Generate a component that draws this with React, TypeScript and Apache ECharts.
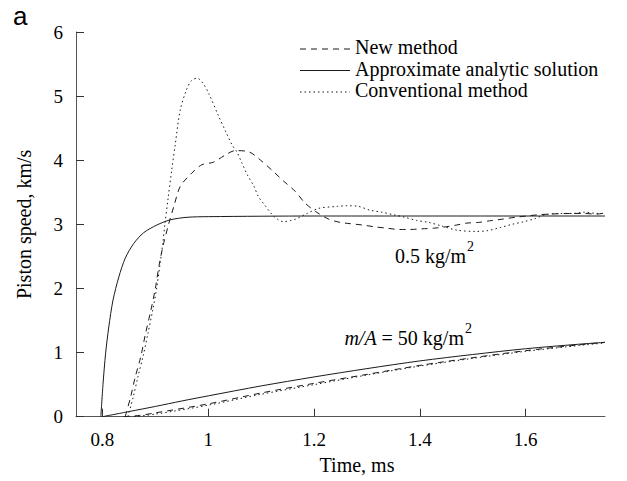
import React, { useEffect, useRef } from "react";
import * as echarts from "echarts";

type P = [number, number];

const xTicks = [0.8, 1, 1.2, 1.4, 1.6];
const yTicks = [0, 1, 2, 3, 4, 5, 6];

// m/A = 0.5 kg/m^2
const analytic05: P[] = [
  [0.797, 0], [0.801, 0.5], [0.806, 0.99], [0.812, 1.4], [0.82, 1.82], [0.831, 2.18],
  [0.843, 2.47], [0.859, 2.7], [0.878, 2.87], [0.903, 2.99], [0.928, 3.07], [0.96, 3.11],
  [1.0, 3.12], [1.2, 3.13], [1.75, 3.13],
];
const newMethod05: P[] = [
  [0.843, 0], [0.853, 0.3], [0.862, 0.62], [0.872, 0.92], [0.881, 1.28], [0.891, 1.64],
  [0.9, 2.0], [0.907, 2.36], [0.915, 2.68], [0.925, 3.0], [0.935, 3.28], [0.947, 3.59],
  [0.969, 3.8], [0.988, 3.93], [1.01, 3.97], [1.032, 4.08], [1.051, 4.15], [1.077, 4.13],
  [1.099, 4.0], [1.121, 3.84], [1.143, 3.67], [1.165, 3.51], [1.182, 3.34], [1.203, 3.2],
  [1.228, 3.08], [1.25, 3.03], [1.269, 3.01], [1.291, 2.99], [1.316, 2.96], [1.338, 2.94],
  [1.36, 2.92], [1.38, 2.92], [1.404, 2.93], [1.426, 2.94], [1.448, 2.96], [1.47, 2.99],
  [1.489, 3.02], [1.511, 3.03], [1.536, 3.06], [1.555, 3.08], [1.58, 3.11], [1.602, 3.13],
  [1.624, 3.15], [1.646, 3.16], [1.687, 3.17], [1.71, 3.17], [1.735, 3.16], [1.75, 3.18],
];
const conventional05: P[] = [
  [0.848, 0], [0.858, 0.3], [0.867, 0.62], [0.877, 0.95], [0.886, 1.3], [0.895, 1.66],
  [0.903, 2.03], [0.909, 2.39], [0.914, 2.7], [0.918, 3.0], [0.924, 3.4], [0.931, 3.85],
  [0.938, 4.27], [0.947, 4.78], [0.958, 5.08], [0.968, 5.24], [0.979, 5.28], [0.99, 5.2],
  [1.001, 5.04], [1.02, 4.68], [1.034, 4.43], [1.045, 4.24], [1.054, 4.13], [1.064, 3.95],
  [1.074, 3.77], [1.086, 3.6], [1.095, 3.43], [1.105, 3.32], [1.121, 3.15], [1.131, 3.08],
  [1.143, 3.04], [1.155, 3.06], [1.165, 3.08], [1.187, 3.17], [1.209, 3.25], [1.244, 3.28],
  [1.262, 3.29], [1.284, 3.28], [1.306, 3.22], [1.328, 3.19], [1.35, 3.15], [1.372, 3.11],
  [1.394, 3.06], [1.417, 3.03], [1.439, 2.98], [1.47, 2.91], [1.505, 2.89], [1.527, 2.9],
  [1.552, 2.95], [1.574, 3.0], [1.596, 3.04], [1.618, 3.09], [1.637, 3.15], [1.665, 3.17],
  [1.691, 3.17], [1.71, 3.19], [1.735, 3.17], [1.75, 3.17],
];

// m/A = 50 kg/m^2
const analytic50: P[] = [
  [0.8, 0], [0.85, 0.08], [0.9, 0.16], [0.95, 0.245], [1.0, 0.325], [1.1, 0.48],
  [1.2, 0.62], [1.3, 0.75], [1.4, 0.87], [1.5, 0.97], [1.6, 1.06], [1.7, 1.13], [1.75, 1.16],
];
const newMethod50: P[] = [
  [0.84, 0], [0.87, 0.02], [0.9, 0.06], [1.0, 0.2], [1.1, 0.37], [1.2, 0.52], [1.3, 0.66],
  [1.4, 0.8], [1.5, 0.92], [1.6, 1.03], [1.7, 1.12], [1.75, 1.16],
];
const conventional50: P[] = [
  [0.86, 0], [0.9, 0.04], [1.0, 0.18], [1.1, 0.35], [1.2, 0.5], [1.3, 0.65], [1.4, 0.79],
  [1.5, 0.91], [1.6, 1.02], [1.7, 1.11], [1.75, 1.15],
];

const legendNames = ["New method", "Approximate analytic solution", "Conventional method"];

const SERIF = "'Liberation Serif', 'Times New Roman', serif";
const INK = "#1a1a1a";
const DASH = [6, 5];
const DOT = [1.5, 3];

export default function App() {
  const ref = useRef<HTMLDivElement>(null);

  useEffect(() => {
    if (!ref.current) return;
    const chart = echarts.init(ref.current, undefined, { renderer: "svg" });

    const mk = (name: string, data: P[], type: any) => ({
      name,
      type: "line",
      data,
      showSymbol: false,
      symbol: "none",
      smooth: 0.3,
      lineStyle: { color: INK, width: 1, type },
      z: 3,
    });

    const legendRow = (y: number, dash: any, text: string) => [
      {
        type: "line",
        shape: { x1: 300, y1: y + 2, x2: 350, y2: y + 2 },
        style: { stroke: INK, lineWidth: 1, lineDash: dash },
      },
      {
        type: "text",
        x: 355,
        y,
        style: { text, font: `20px ${SERIF}`, fill: "#000", align: "left", verticalAlign: "middle" },
      },
    ];

    chart.setOption({
      animation: false,
      grid: { left: 76, right: 22, top: 32, bottom: 64.3, containLabel: false },
      xAxis: {
        type: "value",
        min: 0.75,
        max: 1.75,
        name: "Time, ms",
        nameLocation: "middle",
        nameGap: 38,
        nameTextStyle: { fontFamily: SERIF, fontSize: 20, color: "#000", padding: [0, 0, 0, 33] },
        axisLine: { show: true, lineStyle: { color: "#555", width: 1 } },
        axisTick: { show: true, inside: true, length: 8, customValues: xTicks, lineStyle: { color: "#333" } },
        axisLabel: {
          customValues: xTicks,
          margin: 13,
          fontFamily: SERIF,
          fontSize: 19,
          color: "#000",
        },
        splitLine: { show: false },
      },
      yAxis: {
        type: "value",
        min: 0,
        max: 6,
        interval: 1,
        name: "Piston speed, km/s",
        nameLocation: "middle",
        nameGap: 42,
        nameTextStyle: { fontFamily: SERIF, fontSize: 20, color: "#000" },
        axisLine: { show: true, lineStyle: { color: "#555", width: 1 } },
        axisTick: { show: true, inside: true, length: 8, lineStyle: { color: "#333" } },
        axisLabel: { margin: 13, fontFamily: SERIF, fontSize: 19, color: "#000", customValues: yTicks },
        splitLine: { show: false },
      },
      series: [
        mk(legendNames[1], analytic05, "solid"),
        mk(legendNames[0], newMethod05, DASH),
        mk(legendNames[2], conventional05, DOT),
        mk(legendNames[1], analytic50, "solid"),
        mk(legendNames[0], newMethod50, DASH),
        mk(legendNames[2], conventional50, DOT),
      ],
      graphic: [
        {
          type: "text",
          x: 13,
          y: 3,
          style: { text: "a", font: "26px 'Liberation Sans', Arial, sans-serif", fill: "#000", align: "left", verticalAlign: "top" },
        },
        ...legendRow(47, DASH, legendNames[0]),
        ...legendRow(68.5, null, legendNames[1]),
        ...legendRow(90, DOT, legendNames[2]),
        {
          type: "text",
          x: 466,
          y: 256,
          style: { text: "0.5 kg/m", font: `20px ${SERIF}`, fill: "#000", align: "right", verticalAlign: "middle" },
        },
        {
          type: "text",
          x: 467,
          y: 253,
          style: { text: "2", font: `14px ${SERIF}`, fill: "#000", align: "left", verticalAlign: "bottom" },
        },
        {
          type: "text",
          x: 464,
          y: 338,
          style: {
            text: "{i|m/A} = 50 kg/m",
            font: `20px ${SERIF}`,
            fill: "#000",
            align: "right",
            verticalAlign: "middle",
            rich: { i: { fontStyle: "italic", fontFamily: SERIF, fontSize: 20 } },
          },
        },
        {
          type: "text",
          x: 465,
          y: 335,
          style: { text: "2", font: `14px ${SERIF}`, fill: "#000", align: "left", verticalAlign: "bottom" },
        },
      ],
    });

    return () => chart.dispose();
  }, []);

  return <div ref={ref} style={{ position: "fixed", left: 0, top: 0, width: 627, height: 481, background: "#fff" }} />;
}
